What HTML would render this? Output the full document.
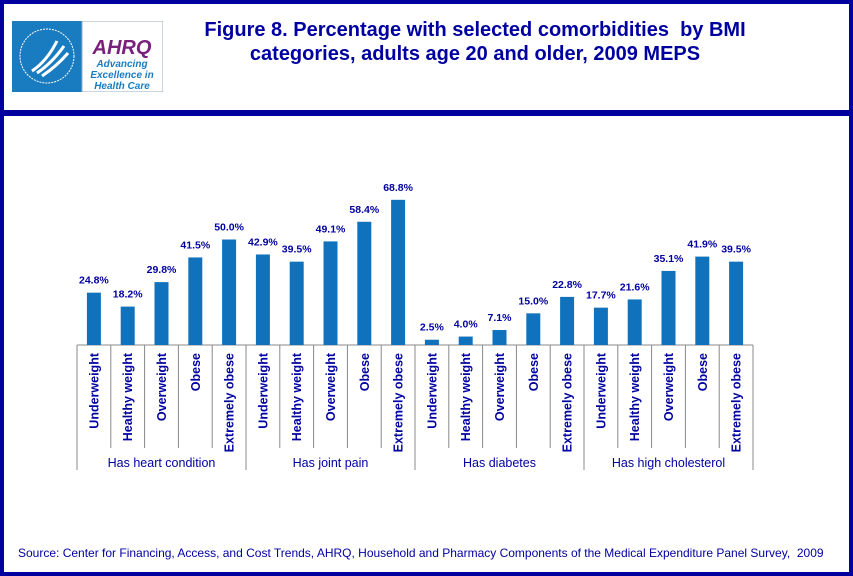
<!DOCTYPE html>
<html><head><meta charset="utf-8"><style>
body{margin:0;width:853px;height:576px;overflow:hidden;background:#fff;font-family:"Liberation Sans",sans-serif}
#frame{position:absolute;left:0;top:0;width:845px;height:568px;border:4px solid #0000a0}
#rule{position:absolute;left:4px;top:110px;width:845px;height:6px;background:#0000a0}
#title{position:absolute;left:145px;top:18px;width:660px;text-align:center;color:#0000a0;font-weight:bold;font-size:20px;line-height:24px}
#src{position:absolute;left:18px;top:546px;font-size:12px;color:#0000a0}
</style></head><body>
<div id="frame"></div>
<div id="rule"></div>
<svg style="position:absolute;left:12px;top:21px" width="151" height="71">
<rect x="0" y="0" width="70" height="71" fill="#1a7cc0"/>
<circle cx="35" cy="35" r="27" fill="none" stroke="#fff" stroke-width="1" stroke-dasharray="2 1"/>
<path d="M20 50 Q35 40 45 20 M25 52 Q40 42 52 25 M30 55 Q45 45 56 32" stroke="#fff" stroke-width="3" fill="none"/>
<rect x="70" y="0" width="81" height="71" fill="#fff" stroke="#9ab" stroke-width="1"/>
<text x="110" y="33" text-anchor="middle" font-family="Liberation Sans" font-weight="bold" font-style="italic" font-size="20" fill="#7a1f7e">AHRQ</text>
<text x="110" y="46" text-anchor="middle" font-family="Liberation Sans" font-weight="bold" font-style="italic" font-size="10" fill="#1a7cc0">Advancing</text>
<text x="110" y="57" text-anchor="middle" font-family="Liberation Sans" font-weight="bold" font-style="italic" font-size="10" fill="#1a7cc0">Excellence in</text>
<text x="110" y="68" text-anchor="middle" font-family="Liberation Sans" font-weight="bold" font-style="italic" font-size="10" fill="#1a7cc0">Health Care</text>
</svg>
<div id="title">Figure 8. Percentage with selected comorbidities&nbsp; by BMI<br>categories, adults age 20 and older, 2009 MEPS</div>
<svg id="chart" width="853" height="576" style="position:absolute;left:0;top:0"></svg>
<div id="src">Source: Center for Financing, Access, and Cost Trends, AHRQ, Household and Pharmacy Components of the Medical Expenditure Panel Survey,&nbsp; 2009</div>
<script>
const groups=["Has heart condition","Has joint pain","Has diabetes","Has high cholesterol"];
const categories=["Underweight","Healthy weight","Overweight","Obese","Extremely obese"];
const heart=[24.8,18.2,29.8,41.5,50.0];
const joint=[42.9,39.5,49.1,58.4,68.8];
const diabetes=[2.5,4.0,7.1,15.0,22.8];
const cholesterol=[17.7,21.6,35.1,41.9,39.5];
const series=[heart,joint,diabetes,cholesterol];
const svg=document.getElementById('chart');const NS="http://www.w3.org/2000/svg";
const x0=77,step=33.8,base=345,ppu=2.11;
const xs=i=>x0+i*step; const ys=v=>base-v*ppu;
function mk(t,a){const e=document.createElementNS(NS,t);for(const k in a)e.setAttribute(k,a[k]);svg.appendChild(e);return e;}
const n=groups.length*categories.length;
const ax=mk('line',{x1:x0,x2:xs(n),y1:base,y2:base,stroke:'#888'});


for(let i=0;i<=n;i++){
 const g=i%categories.length===0;
 const l=mk('line',{x1:xs(i),x2:xs(i),y1:base,y2:g?470:448,stroke:'#888'});
 
 
}
series.forEach((s,gi)=>{
 s.forEach((v,ci)=>{
  const i=gi*categories.length+ci;const cx=xs(i)+step/2;
  const r=mk('rect',{x:cx-7,y:ys(v),width:14,height:base-ys(v),fill:'#1072bd'});
  
  
  const t=mk('text',{x:cx,y:ys(v)-9,'text-anchor':'middle','font-size':'10.5','font-weight':'bold',fill:'#0000a0','font-family':'Liberation Sans'});
  t.textContent=v.toFixed(1)+'%';
  
  
  const c=mk('text',{transform:`translate(${cx+4.5},353) rotate(-90)`,'text-anchor':'end','font-size':'12.5','font-weight':'bold',fill:'#0000a0','font-family':'Liberation Sans'});
  c.textContent=categories[ci];
  
  
 });
 const gt=mk('text',{x:xs(gi*categories.length)+step*categories.length/2,y:467,'text-anchor':'middle','font-size':'12.5',fill:'#0000a0','font-family':'Liberation Sans'});
 gt.textContent=groups[gi];
 
 
});
</script>
</body></html>
